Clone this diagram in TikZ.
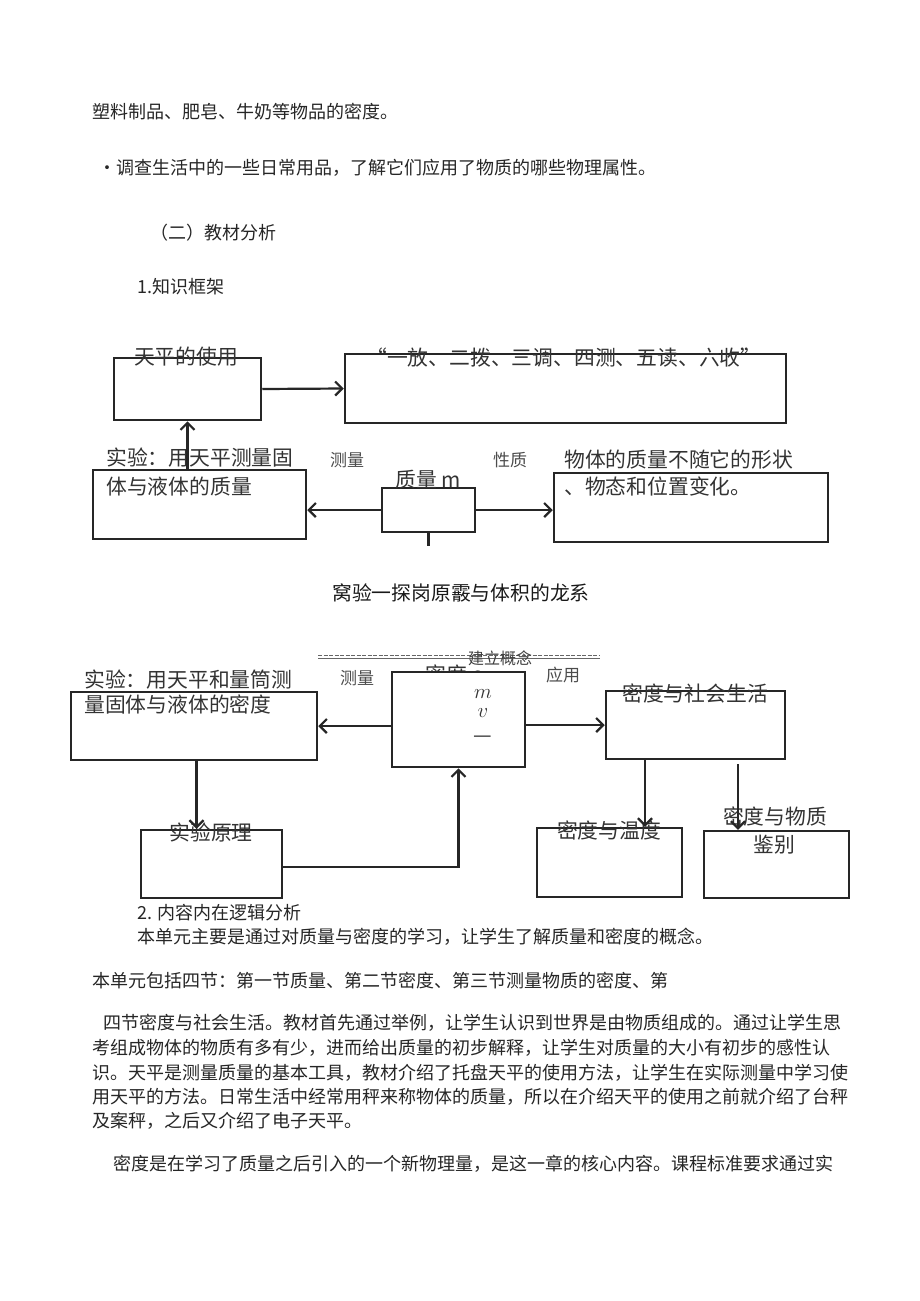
\documentclass[tikz,border=0pt]{standalone}
\usepackage{fontspec}
\setmainfont{Noto Sans CJK SC}
\usetikzlibrary{%
  positioning
 ,arrows.meta
}
\tikzstyle{pg}=[x=1pt,y=-1pt,>={Straight Barb[length=7pt,width=14pt]}]
\tikzstyle{blk}=[draw=black!85,line width=2.5pt,fill=white,inner sep=0pt]
\tikzstyle{con}=[->,draw=black!85,line width=2.2pt]
\tikzstyle{lbl}=[font=\fontsize{20.8}{24}\selectfont,text=black!80,inner sep=0pt]
\tikzstyle{tag}=[font=\fontsize{17}{20}\selectfont,text=black!70,inner sep=0pt]
\tikzstyle{txt}=[font=\fontsize{18}{22}\selectfont,text=black!85,anchor=west,inner sep=0pt]

\begin{document}
\begin{tikzpicture}[pg]
  \useasboundingbox[fill=white] (0,0) rectangle (920,1301);
% page text, top
  \node[txt] (t_1) at (92,112)  {塑料制品、肥皂、牛奶等物品的密度。};
  \node[txt] (t_2) at (98,168)  {・调查生活中的一些日常用品，了解它们应用了物质的哪些物理属性。};
  \node[txt] (t_3) at (150,233) {（二）教材分析};
  \node[txt] (t_4) at (137,287) {1.知识框架};
% mass frame
  \node[blk,minimum width=147,minimum height=62] (box_a) at (187.5,389) {};
  \node[blk,minimum width=441,minimum height=69] (box_b) at (565.5,388.5) {};
  \node[blk,minimum width=213,minimum height=69] (box_c) at (199.5,504.5) {};
  \node[blk,minimum width=93,minimum height=44]  (box_d) at (428.5,510) {};
  \node[blk,minimum width=274,minimum height=69] (box_e) at (691,507.5) {};
  \node[lbl] (a_cap) at (186,357) {天平的使用};
  \node[lbl,anchor=west] (b_cap) at (366,358) {“一放、二拨、三调、四测、五读、六收”};
  \node[lbl,anchor=west] (c_cap) at (106,458) {实验：用天平测量固};
  \node[lbl,anchor=west] (c_cap2) at (106,487) {体与液体的质量};
  \node[lbl] (d_cap) at (428,480) {质量 m};
  \node[lbl,anchor=west] (e_cap) at (564,460) {物体的质量不随它的形状};
  \node[lbl,anchor=west] (e_cap2) at (564,487) {、物态和位置变化。};
  \node[tag] (m_tag) at (347,460) {测量};
  \node[tag] (p_tag) at (510,460) {性质};
  \coordinate (d_tail) at (428.5,546);
%
  \path
  (box_a.east) edge[con] (box_b.west)
  (box_c.north -| box_a) edge[con] (box_a.south)
  (box_d.west) edge[con] (box_d.west -| box_c.east)
  (box_d.east) edge[con] (box_d.east -| box_e.west);
  \draw[draw=black!85,line width=2.2pt] (box_d.south) -- (d_tail);
% caption between the frames
  \node[font=\fontsize{19.8}{24}\selectfont,text=black!90,inner sep=0pt] (title) at (461,593) {窝验一探岗原霰与体积的龙系};
% density frame
  \coordinate (rule_l) at (318,658);
  \coordinate (rule_r) at (600,658);
  \draw[black!60,line width=0.8pt] (rule_l) -- (rule_r);
  \draw[black!60,line width=0.8pt,dash pattern=on 4pt off 1.5pt] ([yshift=2.5pt]rule_l) -- ([yshift=2.5pt]rule_r);
  \node[font=\fontsize{16}{20}\selectfont,text=black!75,inner sep=0pt] (rule_cap) at (500,658) {建立概念};
  \node[lbl] (f_cap) at (455,676) {密度 ρ};
  \node[blk,minimum width=133,minimum height=95] (box_f) at (458.5,719.5) {};
  \node[blk,minimum width=246,minimum height=68] (box_g) at (194,726) {};
  \node[blk,minimum width=141,minimum height=68] (box_h) at (211.5,864) {};
  \node[blk,minimum width=179,minimum height=68] (box_i) at (695.5,725) {};
  \node[blk,minimum width=145,minimum height=69] (box_j) at (609.5,862.5) {};
  \node[blk,minimum width=145,minimum height=67] (box_k) at (776.5,864.5) {};
  \node[lbl] (f_m) at (483,694) {$m$};
  \node[lbl] (f_v) at (483,713) {$v$};
  \node[lbl,text height=8pt,text depth=0pt,anchor=base] (f_bar) at (483,742) {—};
  \node[lbl,anchor=west] (g_cap) at (84,680) {实验：用天平和量筒测};
  \node[lbl,anchor=west] (g_cap2) at (84,705) {量固体与液体的密度};
  \node[lbl] (h_cap) at (211,833) {实验原理};
  \node[lbl] (i_cap) at (695,693) {密度与社会生活};
  \node[lbl] (j_cap) at (609,830) {密度与温度};
  \node[lbl] (k_cap) at (775,816) {密度与物质};
  \node[lbl] (k_cap2) at (774,845) {鉴别};
  \node[tag] (g_tag) at (357,678) {测量};
  \node[tag] (i_tag) at (563,675) {应用};
%
  \path
  (box_f.west |- box_g.east) edge[con] (box_g.east)
  ([xshift=2.5pt]box_g.south) edge[con] ([xshift=2.5pt]box_g.south |- box_h.north)
  (box_f.east |- box_i.west) edge[con] (box_i.west)
  ([xshift=-50.5pt]box_i.south) edge[con] ([xshift=-50.5pt]box_i.south |- box_j.north)
  ([xshift=42.5pt,yshift=-4pt]box_i.south) edge[con] ([xshift=42.5pt]box_i.south |- box_k.north);
  \draw[con] ([yshift=-3pt]box_h.east) -| (box_f.south);
% page text, bottom
  \node[txt] (t_5) at (137,913)  {2. 内容内在逻辑分析};
  \node[txt] (t_6) at (137,937)  {本单元主要是通过对质量与密度的学习，让学生了解质量和密度的概念。};
  \node[txt] (t_7) at (92,981)   {本单元包括四节：第一节质量、第二节密度、第三节测量物质的密度、第};
  \node[txt] (t_8) at (103,1023) {四节密度与社会生活。教材首先通过举例，让学生认识到世界是由物质组成的。通过让学生思};
  \node[txt] (t_9) at (92,1048)  {考组成物体的物质有多有少，进而给出质量的初步解释，让学生对质量的大小有初步的感性认};
  \node[txt] (t_10) at (92,1073) {识。天平是测量质量的基本工具，教材介绍了托盘天平的使用方法，让学生在实际测量中学习使};
  \node[txt] (t_11) at (92,1097) {用天平的方法。日常生活中经常用秤来称物体的质量，所以在介绍天平的使用之前就介绍了台秤};
  \node[txt] (t_12) at (92,1121) {及案秤，之后又介绍了电子天平。};
  \node[txt] (t_13) at (113,1164) {密度是在学习了质量之后引入的一个新物理量，是这一章的核心内容。课程标准要求通过实};
\end{tikzpicture}
\end{document}
